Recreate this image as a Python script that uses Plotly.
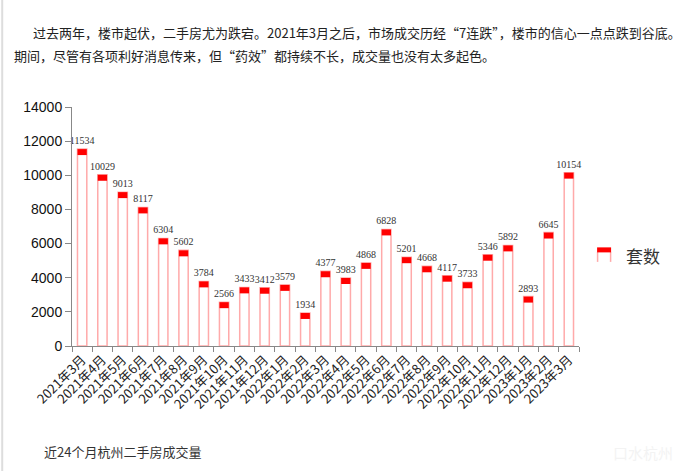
import plotly.graph_objects as go

months = ["2021年3月", "2021年4月", "2021年5月", "2021年6月", "2021年7月", "2021年8月",
          "2021年9月", "2021年10月", "2021年11月", "2021年12月", "2022年1月", "2022年2月",
          "2022年3月", "2022年4月", "2022年5月", "2022年6月", "2022年7月", "2022年8月",
          "2022年9月", "2022年10月", "2022年11月", "2022年12月", "2023年1月", "2023年2月",
          "2023年3月"]
volumes = [11534, 10029, 9013, 8117, 6304, 5602, 3784, 2566, 3433, 3412, 3579, 1934,
           4377, 3983, 4868, 6828, 5201, 4668, 4117, 3733, 5346, 5892, 2893, 6645, 10154]
y_ticks = [0, 2000, 4000, 6000, 8000, 10000, 12000, 14000]
y_tick_labels = ["0", "2000", "4000", "6000", "8000", "10000", "12000", "14000"]
series_name = "套数"
intro_line1 = "过去两年，楼市起伏，二手房尤为跌宕。2021年3月之后，市场成交历经“7连跌”，楼市的信心一点点跌到谷底。"
intro_line2 = "期间，尽管有各项利好消息传来，但“药效”都持续不长，成交量也没有太多起色。"
caption = "近24个月杭州二手房成交量"

W, H = 690, 471
L, R, T, B = 71.8, 578.9, 107.3, 346.0
CAP = 350  # cap height in data units (style)

def px(x):
    return (x - L) / (R - L)

def py(y):
    return (B - y) / (B - T)

fig = go.Figure()
fig.add_trace(go.Bar(
    x=months, y=volumes, width=0.46,
    marker=dict(color="white", line=dict(color="#ffaaaa", width=1.5)),
    showlegend=False, hoverinfo="skip"))
fig.add_trace(go.Bar(
    x=months, y=[CAP] * len(volumes), base=[v - CAP for v in volumes], width=0.46,
    marker=dict(color="#ff0000", line=dict(width=0)),
    text=[str(v) for v in volumes], textposition="outside", constraintext="none",
    textfont=dict(family="Liberation Serif", size=10, color="#333333"),
    cliponaxis=False, showlegend=False))

shapes = [
    dict(type="line", xref="paper", yref="paper", x0=px(2), x1=px(2), y0=py(0), y1=py(H),
         line=dict(color="#dddddd", width=2)),
    dict(type="line", xref="paper", yref="paper", x0=px(597.5), x1=px(597.5), y0=py(252), y1=py(262),
         line=dict(color="#ffaaaa", width=1.5)),
    dict(type="line", xref="paper", yref="paper", x0=px(610.5), x1=px(610.5), y0=py(252), y1=py(262),
         line=dict(color="#ffaaaa", width=1.5)),
    dict(type="rect", xref="paper", yref="paper", x0=px(597), x1=px(611), y0=py(247.5), y1=py(252.5),
         fillcolor="#ff0000", line=dict(width=0)),
]

annotations = [
    dict(text=series_name, xref="paper", yref="paper", x=px(624), y=py(256), xanchor="left",
         yanchor="middle", showarrow=False,
         font=dict(family="Noto Sans CJK SC", size=17, color="#333333")),
    dict(text=intro_line1, xref="paper", yref="paper", x=px(31), y=py(33), xanchor="left",
         yanchor="middle", showarrow=False,
         font=dict(family="Noto Sans CJK SC", size=13, color="#222222")),
    dict(text=intro_line2, xref="paper", yref="paper", x=px(12), y=py(56), xanchor="left",
         yanchor="middle", showarrow=False,
         font=dict(family="Noto Sans CJK SC", size=13, color="#222222")),
    dict(text=caption, xref="paper", yref="paper", x=px(42), y=py(451), xanchor="left",
         yanchor="middle", showarrow=False,
         font=dict(family="Noto Sans CJK SC", size=13, color="#333333")),
    dict(text="口水杭州", xref="paper", yref="paper", x=px(643), y=py(452), xanchor="center",
         yanchor="middle", showarrow=False,
         font=dict(family="Noto Sans CJK SC", size=15, color="#f3f3f3")),
]

fig.update_layout(
    width=W, height=H,
    margin=dict(l=L, r=W - R, t=T, b=H - B, pad=0),
    paper_bgcolor="white", plot_bgcolor="white",
    barmode="overlay",
    shapes=shapes, annotations=annotations,
    xaxis=dict(type="category", tickangle=-45, tickson="boundaries", ticks="outside",
               ticklen=5, tickcolor="#888888", showline=True, linecolor="#888888",
               linewidth=1, showgrid=False, zeroline=False,
               tickfont=dict(family="Noto Sans CJK SC", size=13, color="#222222")),
    yaxis=dict(range=[0, 14000], tickvals=y_ticks, ticktext=y_tick_labels, ticks="outside",
               ticklen=6, tickcolor="#888888", showline=True, linecolor="#888888", linewidth=1,
               showgrid=False, zeroline=False,
               tickfont=dict(family="Liberation Sans", size=14, color="#111111")),
)

fig.write_html("out.html")
